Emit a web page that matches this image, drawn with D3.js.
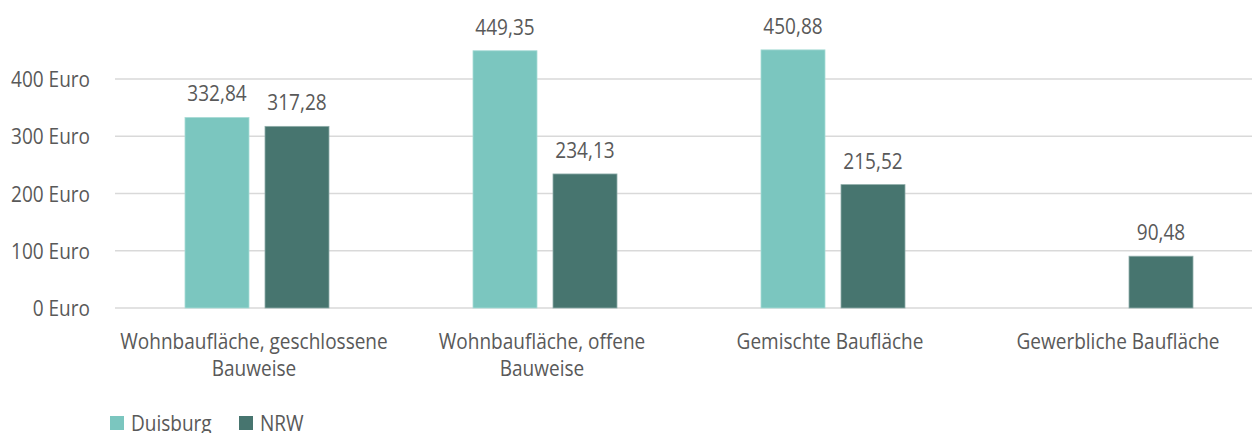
<!DOCTYPE html>
<html>
<head>
<meta charset="utf-8">
<script src="https://cdn.jsdelivr.net/npm/d3@7"></script>
<style>
  html, body { margin: 0; padding: 0; background: #fff; }
  svg { display: block; }
  text { font-family: "Open Sans", sans-serif; font-weight: 400; fill: #595959; }
</style>
</head>
<body>
<svg id="chart" width="1252" height="433"></svg>
<script>
// Bodenrichtwerte je Nutzungsart (Euro/m²)
const categories = [
  "Wohnbaufläche, geschlossene\nBauweise",
  "Wohnbaufläche, offene\nBauweise",
  "Gemischte Baufläche",
  "Gewerbliche Baufläche"
];
const seriesNames = ["Duisburg", "NRW"];
const duisburg = [332.84, 449.35, 450.88, null];
const nrw = [317.28, 234.13, 215.52, 90.48];
const yTicks = [0, 100, 200, 300, 400];
const colors = ["#7bc6bf", "#47756f"];
const strokes = ["#a9dbd6", "#8fadaa"];

const svg = d3.select("#chart");
const fontSize = 22;
const narrow = "scale(0.865,1)"; // horizontally narrowed lettering

const x0 = d3.scaleBand().domain(categories).range([113, 1265]).padding(0);
const x1 = d3.scaleBand().domain(seriesNames)
  .range([x0.bandwidth() / 4, x0.bandwidth() * 3 / 4]).paddingInner(0.2);
const y = d3.scaleLinear().domain([0, 400]).range([308, 79]);

// horizontal gridlines
svg.append("g").selectAll("line").data(yTicks).join("line")
  .attr("x1", 115).attr("x2", 1252)
  .attr("y1", d => y(d)).attr("y2", d => y(d))
  .attr("stroke", "#d9d9d9").attr("stroke-width", 1.5);

// y axis labels
const yAxis = d3.axisLeft(y).tickValues(yTicks).tickSize(0).tickPadding(0)
  .tickFormat(d => d + " Euro");
svg.append("g").attr("transform", "translate(90,0)").call(yAxis)
  .call(g => g.select(".domain").remove())
  .call(g => g.selectAll("text")
    .attr("x", 0)
    .attr("font-size", fontSize)
    .attr("font-family", null)
    .attr("fill", "#595959")
    .attr("dy", "0.35em")
    .attr("transform", narrow));

// bars
const values = [duisburg, nrw];
const rows = [];
categories.forEach((c, i) => {
  seriesNames.forEach((s, j) => {
    if (values[j][i] != null) rows.push({ c, s, j, v: values[j][i] });
  });
});

svg.append("g").selectAll("rect").data(rows).join("rect")
  .attr("x", d => x0(d.c) + x1(d.s))
  .attr("y", d => y(d.v))
  .attr("width", x1.bandwidth())
  .attr("height", d => y(0) - y(d.v))
  .attr("fill", d => colors[d.j])
  .attr("stroke", d => strokes[d.j])
  .attr("stroke-width", 0.8);

// value labels
const fmt = v => v.toFixed(2).replace(".", ",");
svg.append("g").selectAll("text").data(rows).join("text")
  .attr("transform", d => `translate(${x0(d.c) + x1(d.s) + x1.bandwidth() / 2},${y(d.v) - 16}) ${narrow}`)
  .attr("text-anchor", "middle")
  .attr("font-size", fontSize)
  .text(d => fmt(d.v));

// category labels
const catG = svg.append("g").selectAll("text").data(categories).join("text")
  .attr("transform", d => `translate(${x0(d) + x0.bandwidth() / 2 - 3},349) ${narrow}`)
  .attr("text-anchor", "middle")
  .attr("font-size", fontSize);
catG.selectAll("tspan").data(d => d.split("\n")).join("tspan")
  .attr("x", 0)
  .attr("dy", (d, i) => i === 0 ? 0 : 27)
  .text(d => d);

// legend
const legendX = [110, 239];
const lg = svg.append("g").selectAll("g").data(seriesNames).join("g")
  .attr("transform", (d, i) => `translate(${legendX[i]},0)`);
lg.append("rect").attr("x", 0).attr("y", 416).attr("width", 14).attr("height", 14)
  .attr("fill", (d, i) => colors[i]);
lg.append("text").attr("transform", `translate(21,431) ${narrow}`)
  .attr("font-size", fontSize).text(d => d);
</script>
</body>
</html>
